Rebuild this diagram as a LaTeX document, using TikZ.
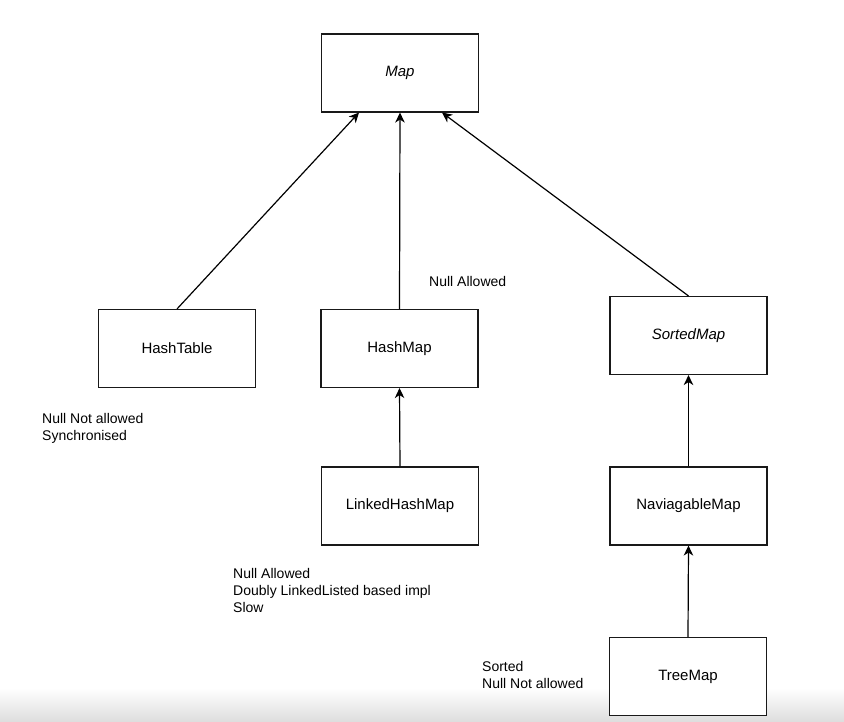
\documentclass[tikz,border=0pt]{standalone}
\usepackage{fontspec}
\setmainfont{Liberation Sans}
\usetikzlibrary{arrows.meta}
\begin{document}
\begin{tikzpicture}[x=1pt,y=-1pt,
  cls/.style={draw=black!90,line width=1.1pt,fill=white,minimum width=157pt,minimum height=78pt,inner sep=0pt,font=\fontsize{15}{18}\selectfont},
  iface/.style={cls,font=\fontsize{15}{18}\selectfont\itshape},
  note/.style={align=left,anchor=north west,inner sep=0pt,font=\fontsize{14}{17}\selectfont},
  inherit/.style={line width=1.2pt,-{Stealth[length=10pt,width=9.5pt,inset=3pt]}}]
\useasboundingbox (0,0) rectangle (844,721);
% faint shadow band along the lower edge
\shade[top color=white,bottom color=black!13] (0,688) rectangle (844,721);

% class boxes
\node[iface] (map) at (400,73) {Map};
\node[cls] (hashtable) at (177,348.5) {HashTable};
\node[cls] (hashmap) at (399.5,348.5) {HashMap};
\node[iface] (sortedmap) at (688.5,335.5) {SortedMap};
\node[cls] (linked) at (400,506) {LinkedHashMap};
\node[cls] (navmap) at (688.5,506) {NaviagableMap};
\node[cls] (treemap) at (688,676.5) {TreeMap};

% inheritance arrows
\draw[inherit] (hashtable.north) -- ([xshift=-41pt]map.south);
\draw[inherit] (hashmap.north) -- (map.south);
\draw[inherit] (sortedmap.north) -- ([xshift=42pt]map.south);
\draw[inherit] (linked.north) -- (hashmap.south);
\draw[inherit] (navmap.north) -- (sortedmap.south);
\draw[inherit] (treemap.north) -- (navmap.south);

% remarks
\node[note] (n1) at (429,276) {Null Allowed};
\node[note] (n2) at (42,413) {Null Not allowed\\Synchronised};
\node[note] (n3) at (233,568) {Null Allowed\\Doubly LinkedListed based impl\\Slow};
\node[note] (n4) at (482,661) {Sorted\\Null Not allowed};
\end{tikzpicture}
\end{document}
